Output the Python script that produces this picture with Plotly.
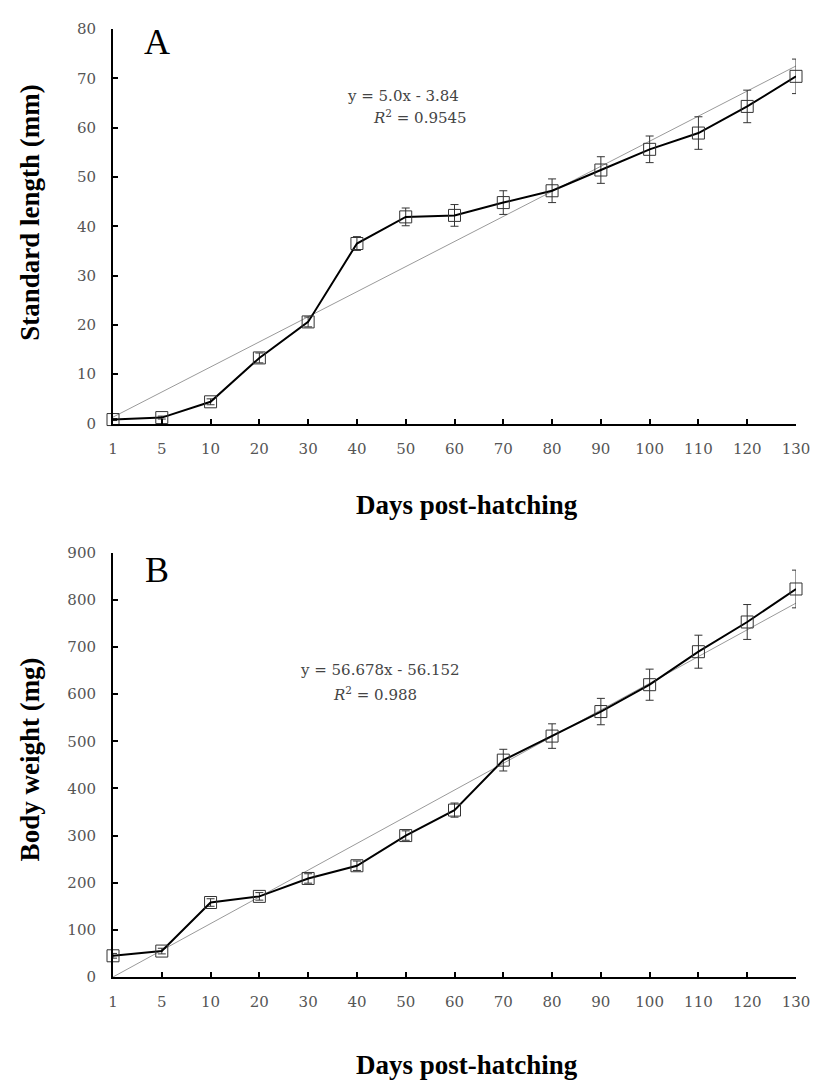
import numpy as np
import plotly.graph_objects as go

days = ["1", "5", "10", "20", "30", "40", "50", "60", "70", "80", "90", "100", "110", "120", "130"]
length_mm = [0.8, 1.2, 4.4, 13.3, 20.6, 36.5, 41.9, 42.2, 44.8, 47.2, 51.4, 55.6, 58.9, 64.3, 70.4]
length_err = [0.2, 0.3, 0.6, 1.0, 1.0, 1.4, 1.8, 2.2, 2.4, 2.4, 2.7, 2.7, 3.3, 3.3, 3.5]
weight_mg = [45, 55, 158, 171, 209, 236, 300, 354, 460, 511, 563, 620, 690, 753, 823]
weight_err = [5, 6, 8, 8, 10, 10, 10, 15, 23, 26, 28, 33, 35, 37, 40]

eq_a = ["y = 5.0x - 3.84", "<i>R</i><sup>2</sup> = 0.9545"]
eq_b = ["y = 56.678x - 56.152", "<i>R</i><sup>2</sup> = 0.988"]

FONT = "Liberation Serif"
TFONT = "DejaVu Serif"
idx = np.arange(len(days))

# page body has an 8px margin; figure is sized to fit the window
OFF = 8
W, H = 827 - OFF, 1085 - OFF
L, R, T, B = 113 - OFF, 827 - 796, 23 - OFF, 1085 - 977
PW, PH = W - L - R, H - T - B

fig = go.Figure()

def add_panel(vals, errs, xa, ya):
    n = idx + 1
    k, b = np.polyfit(n, vals, 1)
    fig.add_trace(go.Scatter(x=idx, y=k * n + b, mode="lines",
                             line=dict(color="#9a9a9a", width=1),
                             xaxis=xa, yaxis=ya, showlegend=False, hoverinfo="skip"))
    fig.add_trace(go.Scatter(x=idx, y=vals, mode="lines+markers",
                             line=dict(color="black", width=2),
                             marker=dict(symbol="square-open", size=12,
                                         color="#333333", line=dict(width=1, color="#333333")),
                             error_y=dict(type="data", array=errs, visible=True,
                                          color="#333333", thickness=1, width=4),
                             cliponaxis=False,
                             xaxis=xa, yaxis=ya, showlegend=False))

add_panel(length_mm, length_err, "x", "y")
add_panel(weight_mg, weight_err, "x2", "y2")

axis_common = dict(showline=True, linecolor="black", linewidth=2, ticks="inside",
                   ticklen=5, tickwidth=2, tickcolor="black", showgrid=False,
                   zeroline=False, tickfont=dict(family=TFONT, size=15, color="#555555"))

def ydom(top_px, bot_px):
    return [(977 - bot_px) / (977 - 23), (977 - top_px) / (977 - 23)]

fig.update_layout(
    width=W, height=H,
    margin=dict(l=L, r=R, t=T, b=B),
    paper_bgcolor="white", plot_bgcolor="white",
    xaxis=dict(domain=[0, 1], range=[0, 14], tickvals=list(idx), ticktext=days,
               anchor="y", ticklabelstandoff=10, **axis_common),
    yaxis=dict(domain=ydom(23, 420), range=[0, 80], dtick=10, anchor="x",
               ticklabelstandoff=12, **axis_common),
    xaxis2=dict(domain=[0, 1], range=[0, 14], tickvals=list(idx), ticktext=days,
                anchor="y2", ticklabelstandoff=10, **axis_common),
    yaxis2=dict(domain=ydom(550, 977), range=[0, 900], dtick=100, anchor="x2",
                ticklabelstandoff=12, **axis_common),
)

def ann(text, px, py, size, bold=False, angle=0, color="black", family=FONT):
    fx, fy = px - OFF, py - OFF
    fig.add_annotation(text=f"<b>{text}</b>" if bold else text,
                       x=(fx - L) / PW, y=(H - B - fy) / PH, xref="paper", yref="paper",
                       xanchor="center", yanchor="middle", showarrow=False, textangle=angle,
                       font=dict(family=family, size=size, color=color))

ann("Standard length (mm)", 30, 208, 27, bold=True, angle=-90)
ann("Body weight (mg)", 30, 758, 27, bold=True, angle=-90)
ann("Days post-hatching", 467, 502, 27, bold=True)
ann("Days post-hatching", 467, 1066, 27, bold=True)
ann("A", 157, 36, 36)
ann("B", 157, 567, 36)
ann(eq_a[0], 403, 90, 15, color="#444444", family=TFONT)
ann(eq_a[1], 420, 112, 15, color="#444444", family=TFONT)
ann(eq_b[0], 380, 668, 15, color="#444444", family=TFONT)
ann(eq_b[1], 375, 692, 15, color="#444444", family=TFONT)

fig.write_html("out.html")
